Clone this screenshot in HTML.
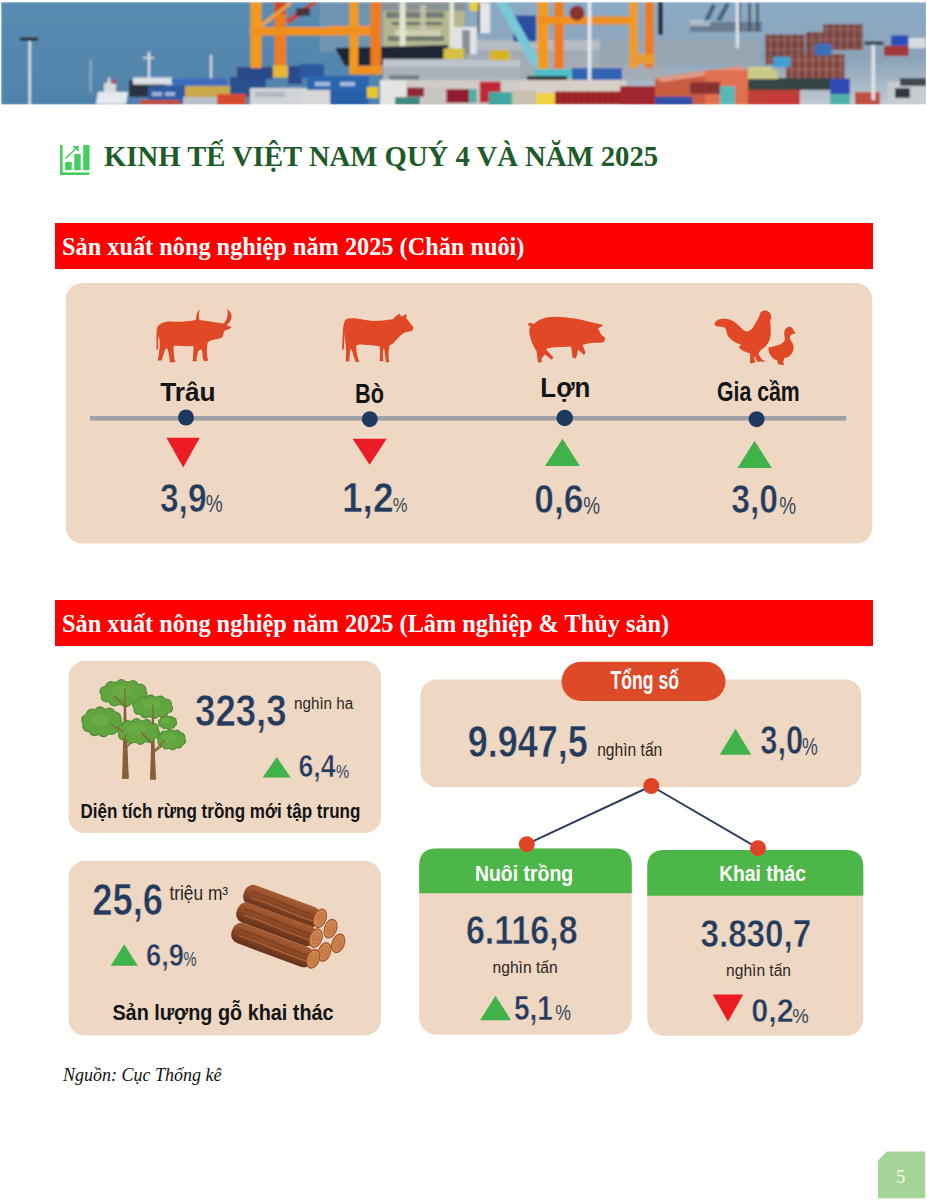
<!DOCTYPE html>
<html><head><meta charset="utf-8">
<style>
html,body{margin:0;padding:0;background:#fff;}
body{width:927px;height:1200px;overflow:hidden;position:relative;}
svg{display:block;position:absolute;left:0;top:0;}
.sb{font-family:"Liberation Sans",sans-serif;font-weight:bold;}
.sr{font-family:"Liberation Sans",sans-serif;font-weight:normal;}
.fb{font-family:"Liberation Serif",serif;font-weight:bold;}
.fi{font-family:"Liberation Serif",serif;font-style:italic;}
</style></head>
<body>
<svg width="927" height="1200" viewBox="0 0 927 1200">
<!-- ============ BANNER ============ -->
<defs>
<clipPath id="bclip"><rect x="1" y="2" width="925" height="102.5"/></clipPath>
<linearGradient id="sea" x1="0" y1="0" x2="0" y2="1"><stop offset="0" stop-color="#5a8cb2"/><stop offset="1" stop-color="#5082aa"/></linearGradient>
<linearGradient id="sky2" x1="0" y1="0" x2="0" y2="1"><stop offset="0" stop-color="#8aaac4"/><stop offset="0.3" stop-color="#8ca8c0"/><stop offset="0.55" stop-color="#8ba3b8"/><stop offset="1" stop-color="#c2cad2"/></linearGradient>
<pattern id="stk" width="7" height="10" patternUnits="userSpaceOnUse"><rect width="7" height="10" fill="#7e4846"/><rect x="0" width="1" height="10" fill="#9a6c68"/><rect x="3.5" width="0.8" height="10" fill="#6a3a38"/><rect y="9.3" width="7" height="0.7" fill="#a87470"/></pattern>
<pattern id="stk2" width="7" height="10" patternUnits="userSpaceOnUse"><rect width="7" height="10" fill="#864a44"/><rect x="0" width="1" height="10" fill="#a47670"/><rect x="3.5" width="0.8" height="10" fill="#6e3c36"/><rect y="9.3" width="7" height="0.7" fill="#b07870"/></pattern>
<filter id="soft" x="-2%" y="-10%" width="104%" height="120%"><feGaussianBlur stdDeviation="0.8"/></filter>
</defs>
<g id="banner" clip-path="url(#bclip)"><g filter="url(#soft)">
<rect x="1" y="2" width="925" height="103" fill="url(#sea)"/>
<rect x="320" y="2" width="80" height="50" fill="#7094b0"/>
<rect x="398" y="2" width="70" height="50" fill="#7f98b0"/>
<rect x="466" y="2" width="461" height="103" fill="url(#sky2)"/>
<rect x="690" y="22" width="72" height="10" fill="#4a5a68" opacity="0.55"/>
<rect x="738" y="3" width="3" height="28" fill="#3a4654" opacity="0.7"/>
<rect x="748" y="3" width="3" height="28" fill="#3a4654" opacity="0.7"/>
<rect x="756" y="3" width="3" height="28" fill="#3a4654" opacity="0.7"/>
<path d="M703,22 L712,4 L716,5 L708,23 Z" fill="#2a4a6a" opacity="0.75"/>
<path d="M716,20 L726,3 L730,4 L721,21 Z" fill="#2a4a6a" opacity="0.75"/>
<rect x="690" y="20" width="20" height="6" fill="#d8dde2" opacity="0.6"/>
<rect x="466" y="50" width="200" height="30" fill="#a3acb5"/>
<rect x="466" y="40" width="140" height="10" fill="#b5bcc3"/>
<rect x="600" y="40" width="160" height="25" fill="#98a6b4"/>
<rect x="28.6" y="40" width="2.2" height="65" fill="#e6eaee"/>
<path d="M19,37.5 L39,37.5 L37,41 L21,41 Z" fill="#2a3038"/>
<path d="M96,104 L98,92 L128,92 L126,104 Z" fill="#e6eaee"/>
<rect x="104" y="83" width="12" height="9" fill="#d4dade"/>
<rect x="108" y="78" width="2" height="6" fill="#e8e8e8"/>
<rect x="112" y="80" width="4" height="4" fill="#c83030"/>
<rect x="129" y="80" width="36" height="17" fill="#2a3242"/>
<rect x="133" y="77.5" width="39" height="7" fill="#dfe3e7"/>
<rect x="148" y="52" width="2" height="28" fill="#e2e6ea"/>
<rect x="143" y="57" width="11" height="1.5" fill="#e2e6ea"/>
<rect x="90" y="60" width="1.2" height="32" fill="#c8d0d8" opacity="0.8"/>
<rect x="210" y="55" width="2" height="25" fill="#d8dce0"/>
<path d="M171,79 L226,78 L229,90 L174,91 Z" fill="#3c6cbc"/>
<rect x="148" y="86" width="37" height="18" fill="#2f5aa0"/>
<rect x="152" y="92" width="10" height="4" fill="#c8d8f0" opacity="0.7"/>
<rect x="165" y="92" width="10" height="4" fill="#c8d8f0" opacity="0.7"/>
<rect x="185" y="86" width="45" height="11" fill="#c8a848"/>
<rect x="183" y="97" width="40" height="8" fill="#b8c0c8"/>
<rect x="230" y="77" width="36" height="20" fill="#2c4f8e"/>
<rect x="237" y="67" width="36" height="12" fill="#2a4a88"/>
<rect x="217" y="94" width="29" height="11" fill="#d84a30"/>
<rect x="140" y="100" width="40" height="5" fill="#c05040"/>
<rect x="250" y="88" width="95" height="17" fill="#d0d4d8"/>
<rect x="255" y="92" width="30" height="5" fill="#a8b0b8" opacity="0.8"/>
<rect x="288" y="66" width="14" height="18" fill="#2a4a90"/>
<rect x="300" y="64" width="24" height="14" fill="#2a5aa0"/>
<rect x="307" y="76" width="62" height="27" fill="#2c66b0"/>
<rect x="315" y="82" width="15" height="4" fill="#d8e4f4" opacity="0.7"/>
<rect x="340" y="82" width="15" height="4" fill="#d8e4f4" opacity="0.7"/>
<rect x="330" y="90" width="38" height="15" fill="#2860a8"/>
<rect x="300" y="90" width="30" height="15" fill="#d8d8d8"/>
<rect x="367" y="87" width="11" height="11" fill="#e8c820"/>
<rect x="250.5" y="2" width="11" height="66" fill="#f39a1c"/>
<rect x="274.5" y="2" width="11.5" height="75" fill="#ec7c1e"/>
<rect x="274.5" y="2" width="11.5" height="12" fill="#c84a22"/>
<rect x="250" y="27" width="122" height="8.5" fill="#f0901a"/>
<path d="M260,24 L288,3 L293,3 L263,27 Z" fill="#eea040"/>
<path d="M286,20 L312,2 L318,2 L289,24 Z" fill="#c84030"/>
<rect x="296" y="8" width="14" height="8" fill="#3a2a2a" opacity="0.8"/>
<rect x="383" y="2" width="82" height="46" fill="#b4b690"/>
<rect x="383" y="2" width="82" height="9" fill="#8a9498"/>
<rect x="386" y="12" width="58" height="6" fill="#5a6468" opacity="0.7"/>
<rect x="392" y="22" width="50" height="3" fill="#3a4248" opacity="0.6"/>
<rect x="395" y="30" width="45" height="6" fill="#d8d8b8" opacity="0.8"/>
<rect x="388" y="36" width="56" height="5" fill="#4a5458" opacity="0.6"/>
<rect x="399.6" y="2" width="6" height="46" fill="#e4e4d4"/>
<rect x="449.5" y="2" width="4.5" height="46" fill="#e4e4d4"/>
<rect x="420" y="5" width="6" height="30" fill="#c8c8b0" opacity="0.8"/>
<path d="M335,48 L448,45 L448,62 L420,64 L345,66 Z" fill="#1e2636"/>
<rect x="454" y="27" width="22.7" height="27" fill="#e0e4e8"/>
<rect x="462" y="30" width="8" height="24" fill="#505860" opacity="0.6"/>
<rect x="383" y="59" width="137" height="21" fill="#aab2ba"/>
<rect x="383" y="60" width="137" height="7" fill="#bcc4cc"/>
<rect x="389" y="75" width="30" height="9" fill="#5a6268" opacity="0.6"/>
<rect x="443.4" y="48.3" width="21" height="10.7" fill="#d8c040"/>
<rect x="490" y="51.4" width="20" height="9" fill="#d8c040"/>
<rect x="349.4" y="2" width="9" height="72" fill="#f39a1c"/>
<rect x="370.5" y="2" width="10.5" height="71" fill="#ec7c1e"/>
<rect x="354" y="66" width="28" height="8.5" fill="#f0901a"/>
<rect x="330" y="26" width="40" height="9" fill="#f0901a"/>
<rect x="273" y="65.5" width="15" height="12" fill="#e8b830"/>
<rect x="380" y="80" width="140" height="26" fill="#d0ccc8"/>
<rect x="380" y="80" width="26" height="26" fill="#e4e4e4"/>
<rect x="407" y="87.6" width="17" height="9" fill="#8a2838"/>
<rect x="424" y="88" width="22" height="17" fill="#c8c4c0"/>
<rect x="446.5" y="89" width="22.5" height="14" fill="#901c30"/>
<rect x="469" y="89" width="8" height="14" fill="#50b0a8"/>
<rect x="479.7" y="81.6" width="21" height="21" fill="#c02838"/>
<rect x="488.8" y="92" width="27" height="14" fill="#40a8a0"/>
<rect x="395" y="97" width="25" height="8" fill="#3a8a80"/>
<rect x="470" y="2" width="13" height="9" fill="#e6d040"/>
<rect x="478" y="3" width="12" height="30" fill="#e4e6ec"/>
<rect x="478" y="3" width="2" height="30" fill="#404850"/>
<rect x="513.5" y="15.5" width="22.5" height="26" fill="#2a50a0"/>
<path d="M496,2 L507,2 L546,72 L536,72 Z" fill="#78c8d8"/>
<rect x="491" y="50" width="17" height="10" fill="#d8b020"/>
<rect x="537.7" y="2" width="10.5" height="70" fill="#f39a1c"/>
<rect x="554" y="2" width="9.6" height="70" fill="#ec7c1e"/>
<rect x="537" y="16.4" width="92" height="8" fill="#f0901a"/>
<circle cx="577" cy="13" r="7.5" fill="#8a3030"/>
<rect x="534" y="69" width="38" height="9" fill="#50c0c8"/>
<rect x="527" y="76" width="40" height="7" fill="#303030"/>
<rect x="572" y="68" width="50" height="13" fill="#3264b2"/>
<rect x="587.8" y="2" width="3.5" height="78" fill="#e6eaee"/>
<rect x="520" y="80" width="106" height="25" fill="#d8d0c8"/>
<rect x="512" y="91" width="24" height="14" fill="#c8c0b0"/>
<rect x="536" y="93" width="19" height="12" fill="#f0d040"/>
<rect x="555" y="91.5" width="70" height="13" fill="#a02828"/>
<rect x="557" y="91.5" width="1" height="13" fill="#7a1818" opacity="0.6"/>
<rect x="563" y="91.5" width="1" height="13" fill="#7a1818" opacity="0.6"/>
<rect x="569" y="91.5" width="1" height="13" fill="#7a1818" opacity="0.6"/>
<rect x="575" y="91.5" width="1" height="13" fill="#7a1818" opacity="0.6"/>
<rect x="581" y="91.5" width="1" height="13" fill="#7a1818" opacity="0.6"/>
<rect x="587" y="91.5" width="1" height="13" fill="#7a1818" opacity="0.6"/>
<rect x="593" y="91.5" width="1" height="13" fill="#7a1818" opacity="0.6"/>
<rect x="599" y="91.5" width="1" height="13" fill="#7a1818" opacity="0.6"/>
<rect x="605" y="91.5" width="1" height="13" fill="#7a1818" opacity="0.6"/>
<rect x="611" y="91.5" width="1" height="13" fill="#7a1818" opacity="0.6"/>
<rect x="617" y="91.5" width="1" height="13" fill="#7a1818" opacity="0.6"/>
<rect x="623" y="91.5" width="1" height="13" fill="#7a1818" opacity="0.6"/>
<rect x="629.5" y="2" width="8" height="66" fill="#f39a1c"/>
<rect x="645" y="2" width="8.7" height="66" fill="#ec7c1e"/>
<rect x="620" y="17" width="10" height="7" fill="#f0901a"/>
<rect x="629.5" y="54" width="25" height="10" fill="#e89a30"/>
<rect x="658" y="2" width="5" height="33" fill="#2a3038"/>
<rect x="735.7" y="2" width="3.3" height="46" fill="#dce0e4"/>
<path d="M655,78 L740,66 L748,70 L748,105 L655,105 Z" fill="#c85c40"/>
<path d="M655,78 L740,66 L748,70 L662,82 Z" fill="#e09a80"/>
<rect x="705" y="70" width="43" height="35" fill="#e07050"/>
<rect x="654.5" y="96.7" width="38" height="8.3" fill="#3050a8"/>
<rect x="620" y="86" width="35" height="19" fill="#a02830"/>
<rect x="720" y="86" width="15" height="19" fill="#58b8b8"/>
<rect x="690" y="82" width="30" height="12" fill="#8a3030"/>
<rect x="747.8" y="67" width="24" height="16" fill="#d6d080"/>
<rect x="765.5" y="34.6" width="39" height="30" fill="url(#stk)"/>
<rect x="805.7" y="32" width="17" height="30" fill="url(#stk)"/>
<rect x="823" y="24.2" width="40" height="26" fill="url(#stk)"/>
<rect x="786" y="54" width="58.5" height="26" fill="url(#stk2)"/>
<rect x="814.7" y="43.7" width="17" height="11.6" fill="#3a70b8"/>
<rect x="773.3" y="56.6" width="17" height="10.4" fill="#40a0d0"/>
<rect x="748" y="78" width="84" height="12" fill="#344444"/>
<rect x="748" y="90" width="52" height="15" fill="#c04038"/>
<rect x="748" y="70" width="30" height="9" fill="#c8c888"/>
<rect x="830" y="78.6" width="20" height="15.4" fill="#2f4cb8"/>
<rect x="830" y="94" width="20" height="11" fill="#50b0a8"/>
<rect x="767" y="95" width="33" height="10" fill="#c83838"/>
<rect x="855" y="92" width="25" height="13" fill="#c05040"/>
<rect x="891" y="35.4" width="17.6" height="10.4" fill="#2850b8"/>
<rect x="884" y="45.8" width="24.6" height="10.2" fill="#a03838"/>
<rect x="908.6" y="38" width="17" height="10" fill="#d8dce0"/>
<rect x="871.5" y="43" width="3.5" height="57" fill="#e0e4e8"/>
<rect x="864.6" y="41.5" width="19" height="3.5" fill="#3a4048"/>
<rect x="888" y="82" width="38" height="23" fill="#c8ccd0"/>
<rect x="900" y="78" width="26" height="8" fill="#404850"/>
<rect x="895" y="88" width="15" height="10" fill="#303840"/>
</g></g>

<!-- ============ TITLE ============ -->
<g id="title-icon" fill="#43cf5b">
<rect x="60" y="145" width="2.6" height="30"/>
<rect x="60" y="172.4" width="29.4" height="2.6"/>
<rect x="65.2" y="162" width="6.5" height="8.2"/>
<rect x="74.3" y="154" width="6.4" height="16.2"/>
<rect x="83.2" y="145" width="6.3" height="25.2"/>
<path d="M65.5,158.5 L77,147.5" stroke="#43cf5b" stroke-width="1.6" fill="none"/>
<path d="M72.5,146 L78.6,146 L78.6,152 Z"/>
</g>
<text class="fb" x="104" y="166.3" font-size="28.7" fill="#1d5c28">KINH TẾ VIỆT NAM QUÝ 4 VÀ NĂM 2025</text>

<!-- ============ SECTION 1 ============ -->
<rect x="55" y="223" width="818" height="46" fill="#fe0000"/>
<text class="fb" x="62" y="255.3" font-size="24.3" fill="#fff">Sản xuất nông nghiệp năm 2025 (Chăn nuôi)</text>
<rect x="65.8" y="283" width="806.4" height="260.4" rx="16" fill="#efd8c3"/>
<rect x="90" y="416" width="756.3" height="4.6" fill="#9ea1a5"/>
<g fill="#1f3a60">
<circle cx="186" cy="417.5" r="8"/>
<circle cx="369.8" cy="419.2" r="8"/>
<circle cx="564.7" cy="418" r="8.3"/>
<circle cx="756.6" cy="419.2" r="8"/>
</g>
<g fill="#ec1c24">
<path d="M166.5,437.8 L199.8,437.8 L183.2,467.6 Z"/>
<path d="M352.6,438.8 L386.7,438.8 L369.6,464.7 Z"/>
</g>
<g fill="#3fb24a">
<path d="M545,466 L579.9,466 L562.5,438.8 Z"/>
<path d="M737.5,468 L771.8,468 L754.6,440.8 Z"/>
</g>
<g id="animals" fill="#e04826">
<path d="M157.5,327 C160,323 165,321.5 171,321.5 C178,322 185,321.5 190,321 C193,320.5 195,320 196,319.5 C196.2,315 197.5,311 199.8,309.3 C198.5,313 198.5,317 199.5,320 C204,320.5 210,321.5 216,322.5 L223.5,323.5 C226.5,321 228.5,316 227.4,309.3 C231,311.5 232.5,316 231,319.5 C230,322 228.5,323.5 226.5,325 L232,327.5 L227.5,329.8 C225.5,330 224,331 223.5,333 C223.5,335 223,337 221,338 C218,339 215,339.5 212.5,340 C210,340.5 208,341.5 207.5,343 L206.8,352 L207.5,358.5 L208.5,360.5 L204,361.2 L202.8,358 L202,350 L200.5,349.5 L198,351.5 L196.5,359.5 L197.2,361 L192.7,361.5 L193.5,350 L193.2,346 C188,346.5 181,346 175,345.5 L173.5,346.5 L173.8,353 L174.5,360 L175.8,362 L170,362.5 L169.5,358 L168.2,351 L167,348 L165.2,349.5 L162.2,358.5 L161.8,360.5 L157.6,360.5 L158.6,356 L159.8,347 L159.6,340 L158.3,336 L158.2,349.6 L156.6,349.6 L156.5,335 C156.5,332 156.8,329 157.5,327 Z"/>
<path d="M345.5,319.5 C349,318.2 353,318.2 357,318.6 C363,319.3 368,320.8 373,321 C380,321 387,320 393.5,319 L395.2,316.6 L399.6,313.7 L401.5,316.8 L406.8,313.7 L406.2,318.6 C407.5,319.5 408.5,320.5 409,321.5 L413.3,327.3 C413.5,329 412.8,330.5 411.7,330.9 C409.5,331.5 407,332 404.9,332.5 C402,334 400,336 398.1,338 C396,340 394.5,342 393,343.5 C391.5,344.5 390.2,345 389.6,345.2 L388.5,352 L388.8,360 L389.5,362.3 L386,362.3 L385,355 L384.2,348.5 L383.3,348.5 L382.8,355 L383.2,361.3 L379.8,361.3 L380,352 L379.8,346.5 C375,345.5 368,345 362,344.5 C359,344.2 357,344.8 356,346 L356.8,354 L358.8,360.5 L359.5,361.8 L355.8,362 L353.5,356 L351.8,350 L350.6,349 L349.6,355 L349.2,360.8 L350,361.5 L345.8,361.2 L346,353 L345.8,345 C345,341 344.8,337 344.6,333 L343.8,349.6 L342,349.6 L342.6,336 L343,329 C343.5,325 344.2,321.5 345.5,319.5 Z"/>
<path d="M533.6,324.3 C537,320.5 542,318 548,317.2 C556,316 566,317 574.4,318.6 C580,319.5 585,320.5 588,321.5 L603.5,324.9 L598,328.5 C599.5,331 600.5,333.5 601.6,335.1 L605.4,338 L603.8,341.9 C600,342.8 597,343 593.8,342.8 C589,343.2 585,344 582.5,345 L585.5,352.5 L584,355 L578,349.5 L577,355.5 L575.5,358.5 L572.5,357.8 L571.5,349.6 L571,346.5 C565,346.8 560,347 555,347.2 C551,347.5 548,348 546,349.5 L553.5,357.5 L551.5,359.8 L545,354.5 L541.5,358.5 L541.8,362.3 L538,362.5 L536.5,351 C533,346 530.5,340 529.5,334 C529,330 529.5,327.5 530.7,325.8 L528.5,326.3 L528.3,323.5 C529.5,322.3 531.5,322.6 533.6,324.3 Z"/>
<path d="M714.7,323 C716,319.5 721,318.3 725.4,318.7 C730,319.2 733.5,320.5 736,323 L741.8,328.6 C743.5,330.5 745.5,331.5 747.2,331.5 C750,331 752,329 753.6,326.5 C755.5,323 757,320 758.2,318.5 L760.6,312.6 C762,310.8 764,310.2 766.4,310.6 C768.5,311.3 770.2,312.8 771,315 L771.4,318.5 L770,320.2 C770.3,325 771.2,330 770.6,335.2 C770,339.5 768.5,343.5 765.5,346.5 C763.5,348.5 761,350 759.5,351.5 L758.5,354.2 L761.5,359 L765.8,361.5 L757.2,361.8 L755.3,357 L754,357 L755.3,362.4 L750,363.4 L750.3,353.5 C746,352.5 743,350.5 740.5,349 L738.5,347 L741.5,345 C738,343.5 735,342.5 732.5,340.5 C730,338.5 728,336.8 727.2,334.5 C726.5,331.5 726,329 724.8,327.6 C722,326.5 719,326.5 716.2,326.2 C715,325.5 714.5,324.2 714.7,323 Z"/>
<path d="M768.5,347.6 C772,347 778,345.5 781.8,343.5 C784,342 785,340.5 784.9,338.8 C784.5,336 784,334 784.3,332.7 C784.5,329.5 786,327.5 789,326.8 C791,326.6 792.5,327.5 793.3,330 L795.8,333.2 L792,334.3 C791,335 790,336 789.8,337.5 C790,340 791.5,341.5 793.1,344 C794,347 793.8,351 791.5,354 C789.5,356.5 786.5,357.8 784,358.3 L783.2,362.5 L784.3,365 L778.5,364.6 L777,360.3 C774,359.5 771.5,357.5 770,354.5 C768.8,352.5 768.3,350 768.5,347.6 Z"/>
</g>

<!-- ============ SECTION 2 ============ -->
<rect x="55" y="600" width="818" height="46" fill="#fe0000"/>
<text class="fb" x="62" y="632.3" font-size="24.3" fill="#fff">Sản xuất nông nghiệp năm 2025 (Lâm nghiệp &amp; Thủy sản)</text>

<rect x="68.5" y="661" width="312.5" height="172" rx="16" fill="#efd8c3"/>
<rect x="68.5" y="861" width="312.5" height="174.5" rx="16" fill="#efd8c3"/>
<g id="trees"><path d="M124.2,689.0 L125.4,689.0 L128.7,778.8 L122.2,778.8 Z" fill="#86603a"/><path d="M152.1,705.0 L153.3,705.0 L155.9,779.4 L150.1,779.4 Z" fill="#86603a"/><g><ellipse cx="123.5" cy="693.2" rx="22.1" ry="12.3" fill="#4e8c34"/><circle cx="142.0" cy="694.9" r="5.7" fill="#4e8c34"/><circle cx="135.9" cy="699.2" r="6.2" fill="#4e8c34"/><circle cx="125.8" cy="702.4" r="5.0" fill="#4e8c34"/><circle cx="114.5" cy="700.4" r="6.1" fill="#4e8c34"/><circle cx="106.5" cy="696.7" r="5.9" fill="#4e8c34"/><circle cx="104.5" cy="691.4" r="5.1" fill="#4e8c34"/><circle cx="111.2" cy="687.4" r="6.3" fill="#4e8c34"/><circle cx="121.4" cy="684.5" r="5.4" fill="#4e8c34"/><circle cx="133.0" cy="685.5" r="5.4" fill="#4e8c34"/><circle cx="140.1" cy="690.0" r="6.4" fill="#4e8c34"/><ellipse cx="123.5" cy="693.2" rx="21.0" ry="11.2" fill="#62a53f"/><circle cx="141.3" cy="694.8" r="5.2" fill="#62a53f"/><circle cx="135.5" cy="698.7" r="5.7" fill="#62a53f"/><circle cx="125.7" cy="701.6" r="4.6" fill="#62a53f"/><circle cx="114.8" cy="699.8" r="5.6" fill="#62a53f"/><circle cx="107.2" cy="696.4" r="5.4" fill="#62a53f"/><circle cx="105.2" cy="691.6" r="4.7" fill="#62a53f"/><circle cx="111.7" cy="687.9" r="5.8" fill="#62a53f"/><circle cx="121.5" cy="685.2" r="5.0" fill="#62a53f"/><circle cx="132.6" cy="686.2" r="4.9" fill="#62a53f"/><circle cx="139.5" cy="690.2" r="5.8" fill="#62a53f"/></g><ellipse cx="121.5" cy="691.2" rx="10.8" ry="5.7" fill="#6db348" opacity="0.6"/><g><ellipse cx="152.7" cy="706.9" rx="18.6" ry="10.6" fill="#4e8c34"/><circle cx="168.2" cy="708.4" r="4.9" fill="#4e8c34"/><circle cx="163.1" cy="712.0" r="5.4" fill="#4e8c34"/><circle cx="154.6" cy="714.8" r="4.3" fill="#4e8c34"/><circle cx="145.1" cy="713.0" r="5.3" fill="#4e8c34"/><circle cx="138.5" cy="709.9" r="5.1" fill="#4e8c34"/><circle cx="136.7" cy="705.3" r="4.4" fill="#4e8c34"/><circle cx="142.4" cy="701.9" r="5.5" fill="#4e8c34"/><circle cx="150.9" cy="699.3" r="4.7" fill="#4e8c34"/><circle cx="160.6" cy="700.3" r="4.7" fill="#4e8c34"/><circle cx="166.5" cy="704.1" r="5.5" fill="#4e8c34"/><ellipse cx="152.7" cy="706.9" rx="17.6" ry="9.5" fill="#62a53f"/><circle cx="167.5" cy="708.2" r="4.4" fill="#62a53f"/><circle cx="162.6" cy="711.5" r="4.8" fill="#62a53f"/><circle cx="154.5" cy="714.0" r="3.9" fill="#62a53f"/><circle cx="145.4" cy="712.4" r="4.7" fill="#62a53f"/><circle cx="139.1" cy="709.6" r="4.6" fill="#62a53f"/><circle cx="137.5" cy="705.5" r="4.0" fill="#62a53f"/><circle cx="142.9" cy="702.4" r="4.9" fill="#62a53f"/><circle cx="151.0" cy="700.1" r="4.2" fill="#62a53f"/><circle cx="160.2" cy="700.9" r="4.2" fill="#62a53f"/><circle cx="165.9" cy="704.3" r="5.0" fill="#62a53f"/></g><ellipse cx="150.7" cy="704.9" rx="9.1" ry="4.9" fill="#6db348" opacity="0.6"/><g><ellipse cx="167.6" cy="722.4" rx="8.8" ry="6.1" fill="#4e8c34"/><circle cx="174.3" cy="723.2" r="2.8" fill="#4e8c34"/><circle cx="172.1" cy="725.4" r="3.1" fill="#4e8c34"/><circle cx="168.4" cy="727.0" r="2.5" fill="#4e8c34"/><circle cx="164.2" cy="725.9" r="3.0" fill="#4e8c34"/><circle cx="161.3" cy="724.1" r="2.9" fill="#4e8c34"/><circle cx="160.5" cy="721.5" r="2.5" fill="#4e8c34"/><circle cx="163.1" cy="719.5" r="3.2" fill="#4e8c34"/><circle cx="166.7" cy="718.0" r="2.7" fill="#4e8c34"/><circle cx="171.0" cy="718.6" r="2.7" fill="#4e8c34"/><circle cx="173.5" cy="720.8" r="3.2" fill="#4e8c34"/><ellipse cx="167.6" cy="722.4" rx="7.7" ry="5.1" fill="#62a53f"/><circle cx="173.6" cy="723.1" r="2.4" fill="#62a53f"/><circle cx="171.6" cy="724.9" r="2.6" fill="#62a53f"/><circle cx="168.3" cy="726.2" r="2.1" fill="#62a53f"/><circle cx="164.6" cy="725.3" r="2.5" fill="#62a53f"/><circle cx="162.0" cy="723.8" r="2.4" fill="#62a53f"/><circle cx="161.2" cy="721.6" r="2.1" fill="#62a53f"/><circle cx="163.5" cy="720.0" r="2.6" fill="#62a53f"/><circle cx="166.8" cy="718.8" r="2.3" fill="#62a53f"/><circle cx="170.7" cy="719.2" r="2.2" fill="#62a53f"/><circle cx="172.9" cy="721.0" r="2.6" fill="#62a53f"/></g><ellipse cx="165.6" cy="720.4" rx="4.3" ry="2.8" fill="#6db348" opacity="0.6"/><g><ellipse cx="101.8" cy="721.8" rx="18.9" ry="13.4" fill="#4e8c34"/><circle cx="116.4" cy="723.6" r="6.2" fill="#4e8c34"/><circle cx="111.5" cy="728.2" r="6.8" fill="#4e8c34"/><circle cx="103.6" cy="731.8" r="5.5" fill="#4e8c34"/><circle cx="94.8" cy="729.5" r="6.7" fill="#4e8c34"/><circle cx="88.5" cy="725.6" r="6.4" fill="#4e8c34"/><circle cx="86.7" cy="719.8" r="5.6" fill="#4e8c34"/><circle cx="92.3" cy="715.4" r="6.9" fill="#4e8c34"/><circle cx="100.1" cy="712.2" r="5.9" fill="#4e8c34"/><circle cx="109.3" cy="713.3" r="5.9" fill="#4e8c34"/><circle cx="114.7" cy="718.2" r="6.9" fill="#4e8c34"/><ellipse cx="101.8" cy="721.8" rx="17.9" ry="12.3" fill="#62a53f"/><circle cx="115.7" cy="723.5" r="5.7" fill="#62a53f"/><circle cx="111.0" cy="727.7" r="6.3" fill="#62a53f"/><circle cx="103.5" cy="731.0" r="5.1" fill="#62a53f"/><circle cx="95.1" cy="728.9" r="6.1" fill="#62a53f"/><circle cx="89.2" cy="725.3" r="5.9" fill="#62a53f"/><circle cx="87.4" cy="719.9" r="5.1" fill="#62a53f"/><circle cx="92.7" cy="715.9" r="6.4" fill="#62a53f"/><circle cx="100.2" cy="712.9" r="5.5" fill="#62a53f"/><circle cx="108.9" cy="714.0" r="5.4" fill="#62a53f"/><circle cx="114.1" cy="718.4" r="6.4" fill="#62a53f"/></g><ellipse cx="99.8" cy="719.8" rx="9.3" ry="6.2" fill="#6db348" opacity="0.6"/><g><ellipse cx="171.4" cy="739.6" rx="13.4" ry="9.2" fill="#4e8c34"/><circle cx="181.8" cy="740.9" r="4.3" fill="#4e8c34"/><circle cx="178.3" cy="744.0" r="4.7" fill="#4e8c34"/><circle cx="172.7" cy="746.5" r="3.8" fill="#4e8c34"/><circle cx="166.4" cy="744.9" r="4.6" fill="#4e8c34"/><circle cx="161.9" cy="742.2" r="4.4" fill="#4e8c34"/><circle cx="160.7" cy="738.2" r="3.8" fill="#4e8c34"/><circle cx="164.6" cy="735.2" r="4.8" fill="#4e8c34"/><circle cx="170.2" cy="733.0" r="4.1" fill="#4e8c34"/><circle cx="176.8" cy="733.8" r="4.1" fill="#4e8c34"/><circle cx="180.6" cy="737.1" r="4.8" fill="#4e8c34"/><ellipse cx="171.4" cy="739.6" rx="12.3" ry="8.2" fill="#62a53f"/><circle cx="181.1" cy="740.7" r="3.8" fill="#62a53f"/><circle cx="177.9" cy="743.5" r="4.1" fill="#62a53f"/><circle cx="172.6" cy="745.7" r="3.3" fill="#62a53f"/><circle cx="166.7" cy="744.3" r="4.1" fill="#62a53f"/><circle cx="162.6" cy="741.9" r="3.9" fill="#62a53f"/><circle cx="161.4" cy="738.4" r="3.4" fill="#62a53f"/><circle cx="165.1" cy="735.7" r="4.2" fill="#62a53f"/><circle cx="170.3" cy="733.8" r="3.6" fill="#62a53f"/><circle cx="176.4" cy="734.5" r="3.6" fill="#62a53f"/><circle cx="180.0" cy="737.4" r="4.2" fill="#62a53f"/></g><ellipse cx="169.4" cy="737.6" rx="6.5" ry="4.3" fill="#6db348" opacity="0.6"/><g><ellipse cx="138.4" cy="731.5" rx="19.8" ry="11.6" fill="#4e8c34"/><circle cx="154.7" cy="733.1" r="5.4" fill="#4e8c34"/><circle cx="149.3" cy="737.1" r="5.9" fill="#4e8c34"/><circle cx="140.4" cy="740.2" r="4.8" fill="#4e8c34"/><circle cx="130.4" cy="738.2" r="5.8" fill="#4e8c34"/><circle cx="123.4" cy="734.8" r="5.5" fill="#4e8c34"/><circle cx="121.6" cy="729.8" r="4.8" fill="#4e8c34"/><circle cx="127.6" cy="726.0" r="6.0" fill="#4e8c34"/><circle cx="136.5" cy="723.2" r="5.2" fill="#4e8c34"/><circle cx="146.7" cy="724.2" r="5.1" fill="#4e8c34"/><circle cx="152.9" cy="728.4" r="6.0" fill="#4e8c34"/><ellipse cx="138.4" cy="731.5" rx="18.7" ry="10.6" fill="#62a53f"/><circle cx="154.0" cy="733.0" r="4.9" fill="#62a53f"/><circle cx="148.8" cy="736.6" r="5.4" fill="#62a53f"/><circle cx="140.3" cy="739.4" r="4.3" fill="#62a53f"/><circle cx="130.8" cy="737.6" r="5.3" fill="#62a53f"/><circle cx="124.1" cy="734.5" r="5.1" fill="#62a53f"/><circle cx="122.3" cy="729.9" r="4.4" fill="#62a53f"/><circle cx="128.0" cy="726.5" r="5.5" fill="#62a53f"/><circle cx="136.6" cy="723.9" r="4.7" fill="#62a53f"/><circle cx="146.3" cy="724.9" r="4.7" fill="#62a53f"/><circle cx="152.3" cy="728.7" r="5.5" fill="#62a53f"/></g><ellipse cx="136.4" cy="729.5" rx="9.7" ry="5.4" fill="#6db348" opacity="0.6"/><path d="M124.8,689.0 L125.5,706.0" stroke="#86603a" stroke-width="1.3" fill="none"/><path d="M114.0,696.0 L124.5,705.0" stroke="#86603a" stroke-width="1.3" fill="none"/><path d="M111.0,724.0 L123.5,732.0" stroke="#86603a" stroke-width="1.3" fill="none"/><path d="M153.0,705.0 L153.0,724.0" stroke="#86603a" stroke-width="1.3" fill="none"/><path d="M141.0,732.0 L152.5,744.0" stroke="#86603a" stroke-width="1.3" fill="none"/><path d="M165.0,740.0 L154.0,751.0" stroke="#86603a" stroke-width="1.3" fill="none"/><path d="M124.7,735.0 L125.9,735.0 L128.7,778.8 L122.2,778.8 Z" fill="#86603a"/><path d="M152.4,745.0 L153.6,745.0 L155.9,779.4 L150.1,779.4 Z" fill="#86603a"/><path d="M125.5,748 L131,743" stroke="#86603a" stroke-width="1.5"/><path d="M154,752 L162,746" stroke="#86603a" stroke-width="1.5"/></g>
<g id="logs"><defs><linearGradient id="logg" x1="0" y1="0" x2="0" y2="1"><stop offset="0" stop-color="#a85e34"/><stop offset="0.45" stop-color="#8e4a28"/><stop offset="1" stop-color="#64301a"/></linearGradient></defs><g transform="translate(330.5,928.7) rotate(20.4)"><ellipse cx="0" cy="0" rx="6.6" ry="10.2" fill="#9a522a"/><ellipse cx="0" cy="0" rx="5.6" ry="9" fill="#cf8650"/><ellipse cx="0.3" cy="0" rx="3.4" ry="5.6" fill="none" stroke="#b56d3c" stroke-width="0.9"/><ellipse cx="0.5" cy="0" rx="1.5" ry="2.6" fill="none" stroke="#b56d3c" stroke-width="0.8"/></g><g transform="translate(338.2,943.4) rotate(20.4)"><ellipse cx="0" cy="0" rx="6.6" ry="10.2" fill="#9a522a"/><ellipse cx="0" cy="0" rx="5.6" ry="9" fill="#cf8650"/><ellipse cx="0.3" cy="0" rx="3.4" ry="5.6" fill="none" stroke="#b56d3c" stroke-width="0.9"/><ellipse cx="0.5" cy="0" rx="1.5" ry="2.6" fill="none" stroke="#b56d3c" stroke-width="0.8"/></g><g transform="translate(324.4,952.0) rotate(20.4)"><ellipse cx="0" cy="0" rx="6.6" ry="10.2" fill="#9a522a"/><ellipse cx="0" cy="0" rx="5.6" ry="9" fill="#cf8650"/><ellipse cx="0.3" cy="0" rx="3.4" ry="5.6" fill="none" stroke="#b56d3c" stroke-width="0.9"/><ellipse cx="0.5" cy="0" rx="1.5" ry="2.6" fill="none" stroke="#b56d3c" stroke-width="0.8"/></g><g transform="translate(248.0,893.5) rotate(20.4)"><rect x="-4" y="-10.5" width="80.2" height="21.0" rx="9" fill="url(#logg)"/><path d="M2,-3 C22.8,-5 45.7,-1 72.2,-3" stroke="#7a3a1a" stroke-width="1.6" fill="none" opacity="0.7"/><path d="M4,3 C26.7,1 49.5,5 72.2,3" stroke="#c07845" stroke-width="1.2" fill="none" opacity="0.7"/></g><g transform="translate(320.0,918.3) rotate(20.4)"><ellipse cx="0" cy="0" rx="6.6" ry="10.2" fill="#9a522a"/><ellipse cx="0" cy="0" rx="5.6" ry="9" fill="#cf8650"/><ellipse cx="0.3" cy="0" rx="3.4" ry="5.6" fill="none" stroke="#b56d3c" stroke-width="0.9"/><ellipse cx="0.5" cy="0" rx="1.5" ry="2.6" fill="none" stroke="#b56d3c" stroke-width="0.8"/></g><g transform="translate(241.0,911.0) rotate(20.4)"><rect x="-4" y="-10.5" width="83.6" height="21.0" rx="9" fill="url(#logg)"/><path d="M2,-3 C23.9,-5 47.8,-1 75.6,-3" stroke="#7a3a1a" stroke-width="1.6" fill="none" opacity="0.7"/><path d="M4,3 C27.9,1 51.7,5 75.6,3" stroke="#c07845" stroke-width="1.2" fill="none" opacity="0.7"/></g><g transform="translate(315.8,938.2) rotate(20.4)"><ellipse cx="0" cy="0" rx="6.6" ry="10.2" fill="#9a522a"/><ellipse cx="0" cy="0" rx="5.6" ry="9" fill="#cf8650"/><ellipse cx="0.3" cy="0" rx="3.4" ry="5.6" fill="none" stroke="#b56d3c" stroke-width="0.9"/><ellipse cx="0.5" cy="0" rx="1.5" ry="2.6" fill="none" stroke="#b56d3c" stroke-width="0.8"/></g><g transform="translate(236.0,931.5) rotate(20.4)"><rect x="-4" y="-10.5" width="85.9" height="21.0" rx="9" fill="url(#logg)"/><path d="M2,-3 C24.6,-5 49.2,-1 77.9,-3" stroke="#7a3a1a" stroke-width="1.6" fill="none" opacity="0.7"/><path d="M4,3 C28.7,1 53.2,5 77.9,3" stroke="#c07845" stroke-width="1.2" fill="none" opacity="0.7"/></g><g transform="translate(313.2,958.9) rotate(20.4)"><ellipse cx="0" cy="0" rx="6.6" ry="10.2" fill="#9a522a"/><ellipse cx="0" cy="0" rx="5.6" ry="9" fill="#cf8650"/><ellipse cx="0.3" cy="0" rx="3.4" ry="5.6" fill="none" stroke="#b56d3c" stroke-width="0.9"/><ellipse cx="0.5" cy="0" rx="1.5" ry="2.6" fill="none" stroke="#b56d3c" stroke-width="0.8"/></g></g>
<path d="M262.7,777.5 L290.7,777.5 L276.7,757 Z" fill="#3fb24a"/>
<path d="M110.7,965.8 L137.8,965.8 L124.2,944.2 Z" fill="#3fb24a"/>

<rect x="420.4" y="679.6" width="441" height="107.4" rx="16" fill="#efd8c3"/>
<rect x="561.5" y="661.8" width="164" height="39.2" rx="19.6" fill="#de4927"/>
<path d="M719.7,754.7 L751.3,754.7 L735.5,728.8 Z" fill="#3fb24a"/>

<g stroke="#2c3e5c" stroke-width="2" fill="none">
<path d="M651.3,786 L526.8,844.2"/>
<path d="M651.3,786 L758,848.2"/>
</g>

<rect x="419.2" y="848.4" width="212.6" height="186.2" rx="17" fill="#efd8c3"/>
<path d="M419.2,893.2 L419.2,865.4 Q419.2,848.4 436.2,848.4 L614.8,848.4 Q631.8,848.4 631.8,865.4 L631.8,893.2 Z" fill="#4cb748"/>
<rect x="647.3" y="850.1" width="216" height="185.7" rx="17" fill="#efd8c3"/>
<path d="M647.3,895.8 L647.3,867.1 Q647.3,850.1 664.3,850.1 L846.3,850.1 Q863.3,850.1 863.3,867.1 L863.3,895.8 Z" fill="#4cb748"/>
<g fill="#de4526">
<circle cx="651.3" cy="786" r="8"/>
<circle cx="526.8" cy="844.2" r="8"/>
<circle cx="758" cy="848.2" r="8"/>
</g>
<path d="M480,1020.3 L511.1,1020.3 L495.5,995.7 Z" fill="#3fb24a"/>
<path d="M712.7,994.4 L743.2,994.4 L728,1021.6 Z" fill="#ec1c24"/>

<!--TEXTS-->
<text class="sb" x="160.15" y="401.1" font-size="26.513" textLength="55.43" lengthAdjust="spacingAndGlyphs" fill="#141414">Trâu</text>
<text class="sb" x="355.0" y="403.0" font-size="27.942" textLength="28.93" lengthAdjust="spacingAndGlyphs" fill="#141414">Bò</text>
<text class="sb" x="540.35" y="396.5" font-size="27.727" textLength="50.01" lengthAdjust="spacingAndGlyphs" fill="#141414">Lợn</text>
<text class="sb" x="717.1" y="401.25" font-size="27.717" textLength="82.66" lengthAdjust="spacingAndGlyphs" fill="#141414">Gia cầm</text>
<text class="sb" x="159.95" y="511.9" font-size="40.936" textLength="46.59" lengthAdjust="spacingAndGlyphs" fill="#233c5e" stroke="#efd8c3" stroke-width="0.6">3,9</text>
<text class="sr" x="205.64" y="512.4" font-size="24.144" textLength="16.97" lengthAdjust="spacingAndGlyphs" fill="#36465c">%</text>
<text class="sb" x="341.95" y="512.0" font-size="42.659" textLength="51.63" lengthAdjust="spacingAndGlyphs" fill="#233c5e" stroke="#efd8c3" stroke-width="0.6">1,2</text>
<text class="sr" x="392.7" y="512.0" font-size="20.646" textLength="14.75" lengthAdjust="spacingAndGlyphs" fill="#36465c">%</text>
<text class="sb" x="534.2" y="513.01" font-size="40.942" textLength="49.25" lengthAdjust="spacingAndGlyphs" fill="#233c5e" stroke="#efd8c3" stroke-width="0.6">0,6</text>
<text class="sr" x="583.25" y="513.5" font-size="24.144" textLength="16.81" lengthAdjust="spacingAndGlyphs" fill="#36465c">%</text>
<text class="sb" x="731.15" y="513.0" font-size="39.938" textLength="46.96" lengthAdjust="spacingAndGlyphs" fill="#233c5e" stroke="#efd8c3" stroke-width="0.6">3,0</text>
<text class="sr" x="779.15" y="513.5" font-size="23.285" textLength="16.86" lengthAdjust="spacingAndGlyphs" fill="#36465c">%</text>
<text class="sb" x="195.05" y="725.6" font-size="44.004" textLength="91.55" lengthAdjust="spacingAndGlyphs" fill="#233c5e" stroke="#efd8c3" stroke-width="0.6">323,3</text>
<text class="sr" x="294.0" y="708.9" font-size="17.088" textLength="59.22" lengthAdjust="spacingAndGlyphs" fill="#2a2624">nghìn ha</text>
<text class="sb" x="298.5" y="777.45" font-size="31.93" textLength="37.18" lengthAdjust="spacingAndGlyphs" fill="#233c5e" stroke="#efd8c3" stroke-width="0.6">6,4</text>
<text class="sr" x="335.9" y="777.7" font-size="18.074" textLength="13.13" lengthAdjust="spacingAndGlyphs" fill="#36465c">%</text>
<text class="sb" x="80.45" y="818.4" font-size="20.867" textLength="279.92" lengthAdjust="spacingAndGlyphs" fill="#141414">Diện tích rừng trồng mới tập trung</text>
<text class="sb" x="92.35" y="914.7" font-size="44.004" textLength="70.64" lengthAdjust="spacingAndGlyphs" fill="#233c5e" stroke="#efd8c3" stroke-width="0.6">25,6</text>
<text class="sr" x="169.45" y="900.2" font-size="19.891" textLength="58.61" lengthAdjust="spacingAndGlyphs" fill="#2a2624">triệu m³</text>
<text class="sb" x="146.1" y="965.55" font-size="32.008" textLength="37.96" lengthAdjust="spacingAndGlyphs" fill="#233c5e" stroke="#efd8c3" stroke-width="0.6">6,9</text>
<text class="sr" x="183.5" y="965.8" font-size="19.504" textLength="13.09" lengthAdjust="spacingAndGlyphs" fill="#36465c">%</text>
<text class="sb" x="112.4" y="1019.75" font-size="22.008" textLength="221.16" lengthAdjust="spacingAndGlyphs" fill="#141414">Sản lượng gỗ khai thác</text>
<text class="sb" x="610.55" y="688.5" font-size="25.084" textLength="68.41" lengthAdjust="spacingAndGlyphs" fill="#ffffff">Tổng số</text>
<text class="sb" x="467.75" y="756.7" font-size="44.507" textLength="120.0" lengthAdjust="spacingAndGlyphs" fill="#233c5e" stroke="#efd8c3" stroke-width="0.6">9.947,5</text>
<text class="sr" x="597.2" y="755.6" font-size="19.227" textLength="65.07" lengthAdjust="spacingAndGlyphs" fill="#2a2624">nghìn tấn</text>
<text class="sb" x="760.35" y="754.0" font-size="39.725" textLength="42.95" lengthAdjust="spacingAndGlyphs" fill="#233c5e" stroke="#efd8c3" stroke-width="0.6">3,0</text>
<text class="sr" x="801.96" y="754.5" font-size="24.144" textLength="15.7" lengthAdjust="spacingAndGlyphs" fill="#36465c">%</text>
<text class="sb" x="474.95" y="880.5" font-size="22.503" textLength="98.26" lengthAdjust="spacingAndGlyphs" fill="#ffffff">Nuôi trồng</text>
<text class="sb" x="465.95" y="943.71" font-size="40.942" textLength="111.64" lengthAdjust="spacingAndGlyphs" fill="#233c5e" stroke="#efd8c3" stroke-width="0.6">6.116,8</text>
<text class="sr" x="492.6" y="973.3" font-size="16.669" textLength="65.07" lengthAdjust="spacingAndGlyphs" fill="#2a2624">nghìn tấn</text>
<text class="sb" x="513.9" y="1019.95" font-size="35.859" textLength="38.87" lengthAdjust="spacingAndGlyphs" fill="#233c5e" stroke="#efd8c3" stroke-width="0.6">5,1</text>
<text class="sr" x="555.16" y="1020.2" font-size="21.644" textLength="15.7" lengthAdjust="spacingAndGlyphs" fill="#36465c">%</text>
<text class="sb" x="719.15" y="880.5" font-size="22.503" textLength="86.79" lengthAdjust="spacingAndGlyphs" fill="#ffffff">Khai thác</text>
<text class="sb" x="700.45" y="946.5" font-size="39.437" textLength="110.85" lengthAdjust="spacingAndGlyphs" fill="#233c5e" stroke="#efd8c3" stroke-width="0.6">3.830,7</text>
<text class="sr" x="726.1" y="975.9" font-size="16.154" textLength="64.92" lengthAdjust="spacingAndGlyphs" fill="#2a2624">nghìn tấn</text>
<text class="sb" x="751.35" y="1022.25" font-size="33.217" textLength="42.5" lengthAdjust="spacingAndGlyphs" fill="#233c5e" stroke="#efd8c3" stroke-width="0.6">0,2</text>
<text class="sr" x="792.16" y="1022.5" font-size="19.716" textLength="16.52" lengthAdjust="spacingAndGlyphs" fill="#36465c">%</text>
<!--/TEXTS-->
<!-- ============ FOOTER ============ -->
<text class="fi" x="63" y="1080.5" font-size="18" fill="#111">Nguồn: Cục Thống kê</text>
<path d="M878,1160.5 L887,1151.6 L925.2,1151.6 L925.2,1198.3 L878,1198.3 Z" fill="#a5d497"/>
<text class="fr" x="896.1" y="1183.2" font-size="18.5" fill="#f4faf0" style="font-family:'Liberation Serif',serif">5</text>
</svg>
</body></html>
